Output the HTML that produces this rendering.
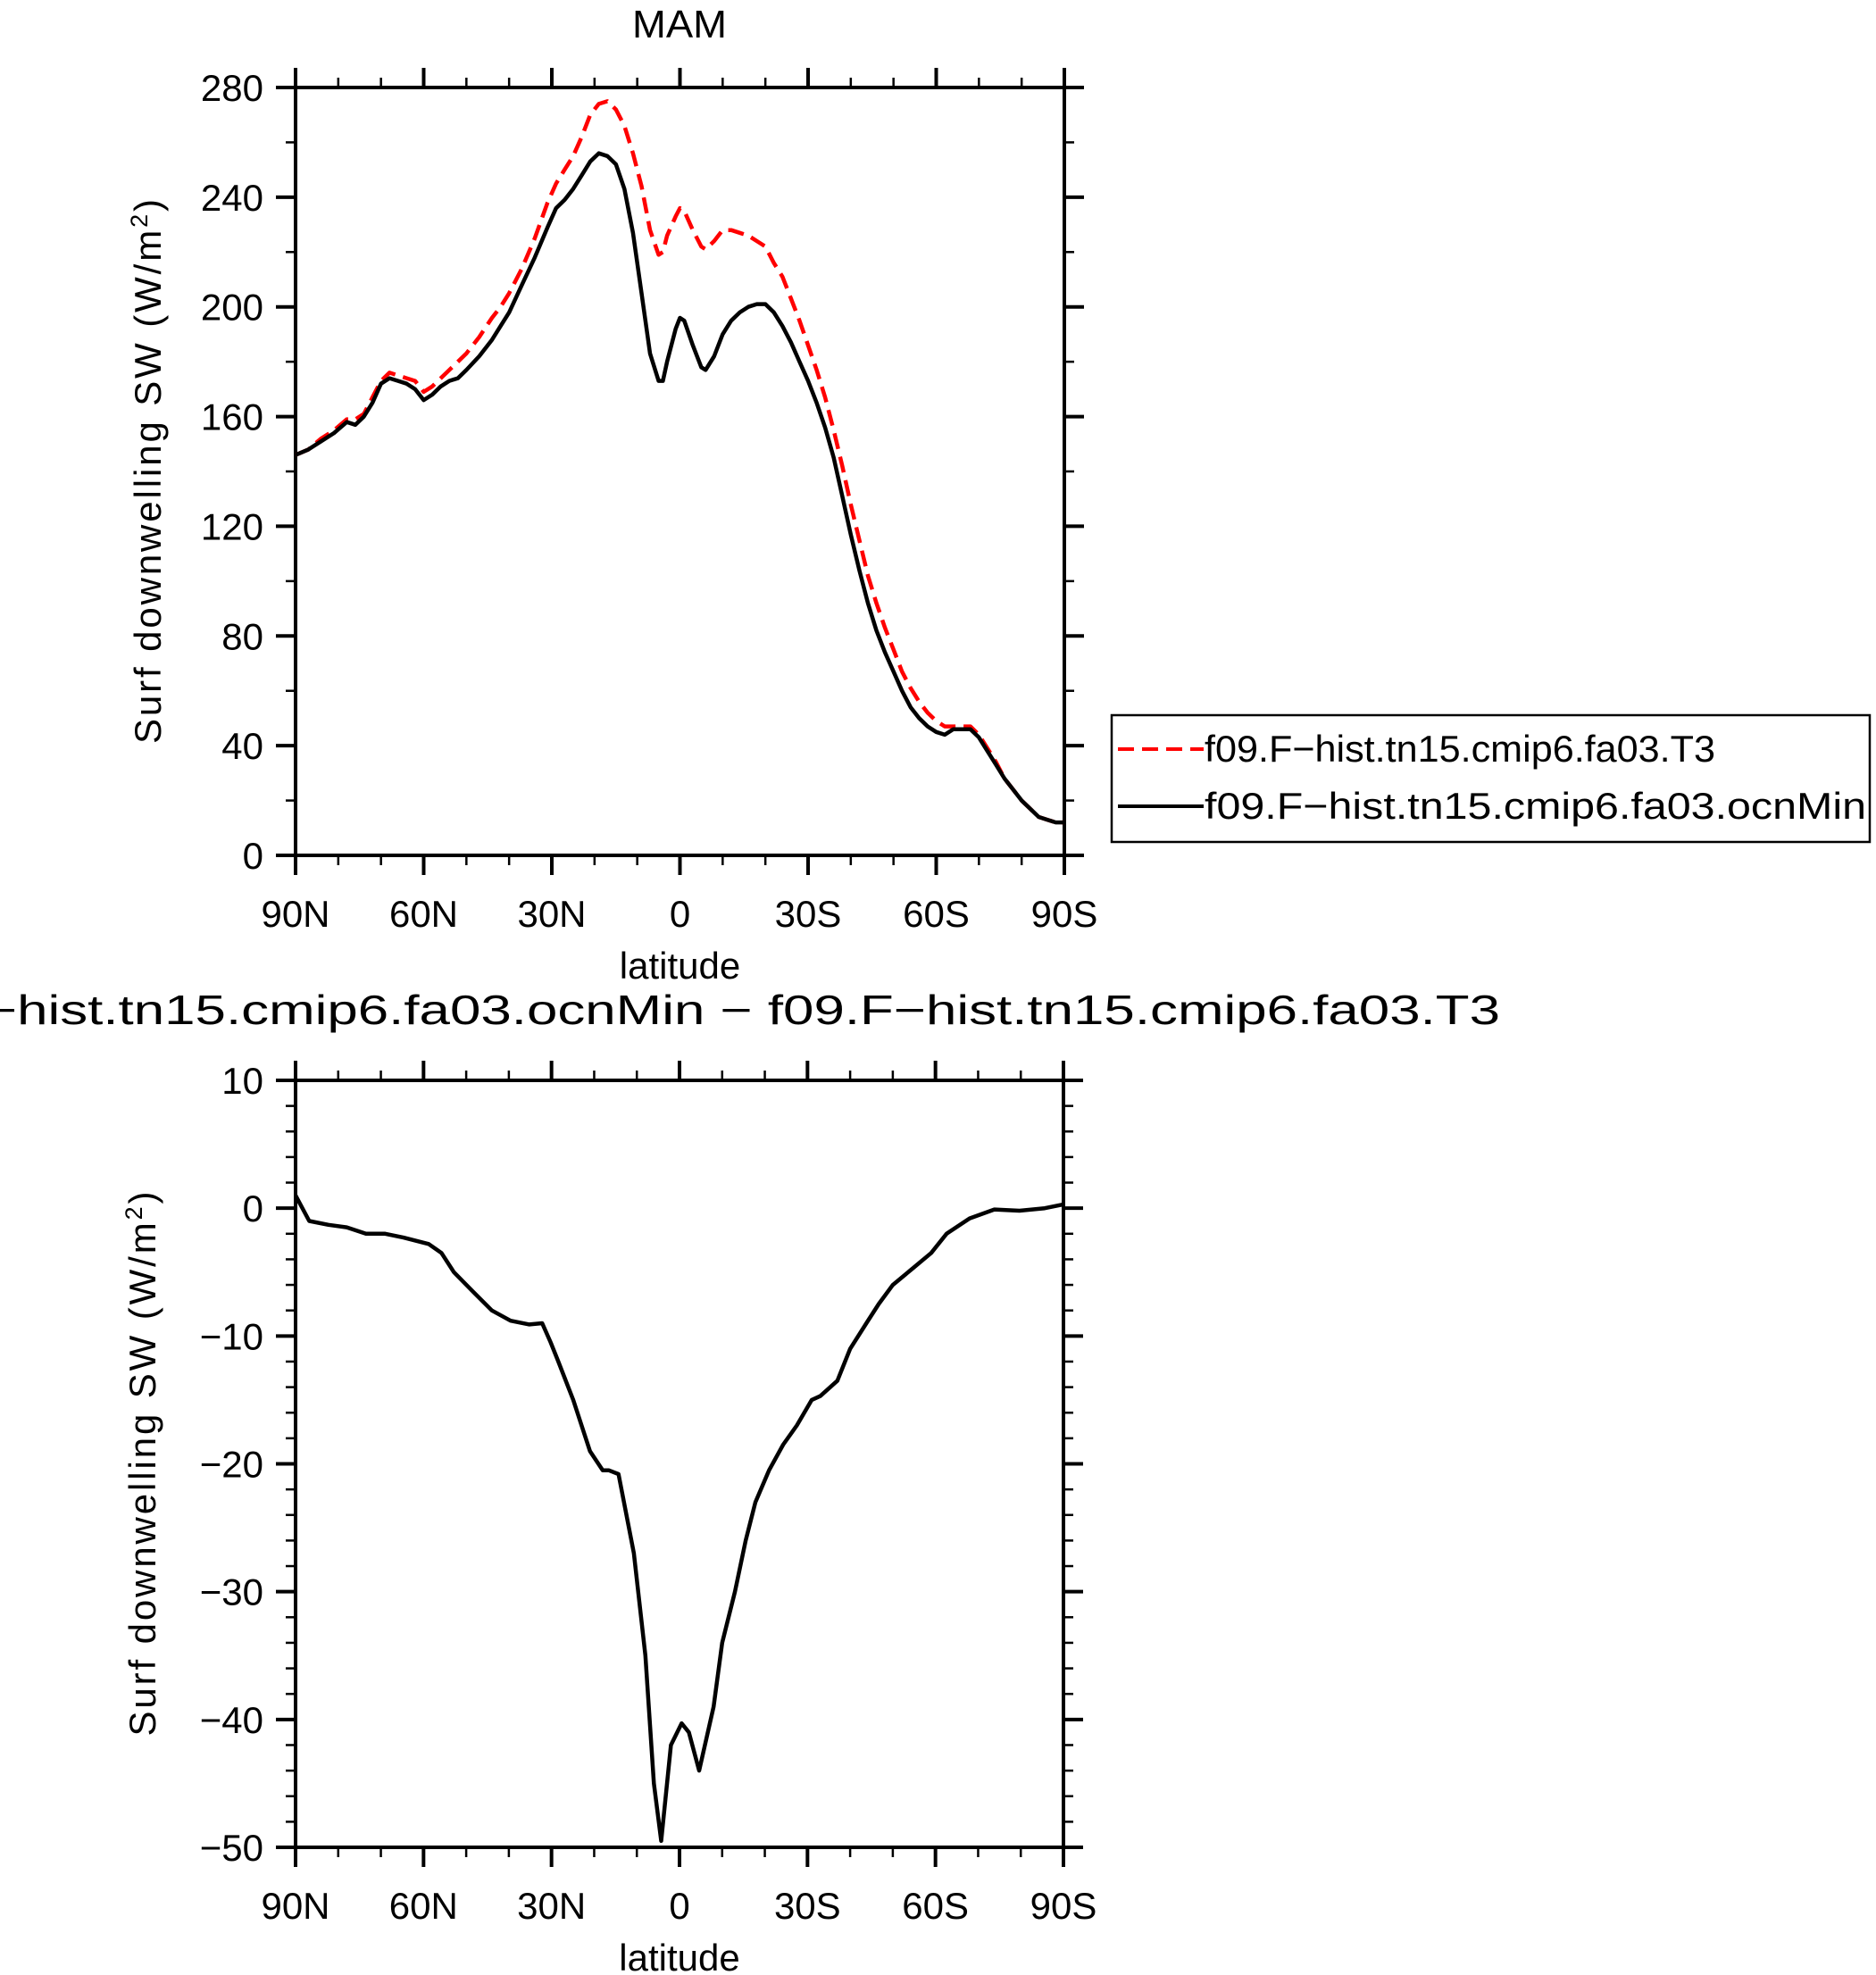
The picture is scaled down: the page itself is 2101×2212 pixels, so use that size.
<!DOCTYPE html>
<html><head><meta charset="utf-8"><style>
html,body{margin:0;padding:0;background:#fff;}
svg{display:block;font-family:"Liberation Sans",sans-serif;}
</style></head><body>
<svg id="chart" width="2101" height="2212" viewBox="0 0 2101 2212" xmlns="http://www.w3.org/2000/svg">
<rect width="2101" height="2212" fill="#fff"/>
<text x="761" y="42" font-size="44" text-anchor="middle" textLength="106" lengthAdjust="spacingAndGlyphs">MAM</text>
<text x="761" y="1147" font-size="46" text-anchor="middle" textLength="1838" lengthAdjust="spacingAndGlyphs">f09.F−hist.tn15.cmip6.fa03.ocnMin  −  f09.F−hist.tn15.cmip6.fa03.T3</text>
<g id="top"></g>
<g id="bot"></g>
<g>
<rect x="1245" y="801" width="849" height="142" fill="none" stroke="#000" stroke-width="2.5"/>
<line x1="1252" y1="839" x2="1348" y2="839" stroke="#ff0000" stroke-width="4" stroke-dasharray="18,9"/>
<text x="1349" y="853" font-size="42" textLength="572" lengthAdjust="spacingAndGlyphs">f09.F−hist.tn15.cmip6.fa03.T3</text>
<line x1="1252" y1="903" x2="1348" y2="903" stroke="#000" stroke-width="4"/>
<text x="1349" y="917" font-size="42" textLength="741" lengthAdjust="spacingAndGlyphs">f09.F−hist.tn15.cmip6.fa03.ocnMin</text>
</g>
</svg>
<script>
const lats=[90,87,84,81,78,76,74,72,70,68,66,64,62,60,58,56,54,52,50,47,44,42,40,37,34,31,29,27,25,23,21,19,17,15,13,11,9,7,5,4,3,1,0,-1,-3,-5,-6,-8,-10,-12,-14,-16,-18,-20,-22,-24,-26,-28,-30,-32,-34,-36,-38,-40,-42,-44,-46,-48,-50,-52,-54,-56,-58,-60,-62,-64,-66,-68,-70,-72,-74,-76,-78,-80,-82,-84,-86,-88,-90];
const ocnMin=[146,148,151,154,158,157,160,165,172,174,173,172,170,166,168,171,173,174,177,182,188,193,198,208,218,229,236,239,243,248,253,256,255,252,243,227,205,183,173,173,180,192,196,195,186,178,177,182,190,195,198,200,201,201,198,193,187,180,173,165,156,145,131,117,104,92,82,74,67,60,54,50,47,45,44,46,46,46,43,38,33,28,24,20,17,14,13,12,12];
const t3=[146,148,152,155,159,159,161,167,173,176,175,174,173,169,171,174,177,180,183,189,196,200,205,214,225,238,245,250,255,262,270,274,275,272,266,256,244,228,219,220,226,233,236,235,228,222,221,224,228,228,227,226,224,222,216,211,203,195,186,177,167,155,142,128,115,102,92,83,75,67,61,56,52,49,47,47,47,47,44,39,34,28,24,20,17,14,13,12,12];
const dLats=[90,86.8,82.3,78,73.5,69,64.7,58.8,55.8,52.9,48.5,44,39.6,35.2,32.2,30.2,28.4,24.9,21,18,16.6,14.3,10.7,8,6,4.3,2,-0.5,-2.2,-4.6,-8,-10,-13,-15.5,-17.8,-21,-24.3,-27.5,-31,-33,-37,-40,-43.8,-46.7,-50,-54.7,-59,-62.6,-68,-73.8,-79.7,-85.6,-90];
const diff=[1,-1,-1.3,-1.5,-2,-2,-2.3,-2.8,-3.5,-5,-6.5,-8,-8.8,-9.1,-9,-10.5,-12,-15,-19,-20.5,-20.5,-20.8,-27,-35,-45,-49.5,-42,-40.3,-41,-44,-39,-34,-30,-26,-23,-20.5,-18.5,-17,-15,-14.7,-13.5,-11,-9,-7.5,-6,-4.7,-3.5,-2,-0.8,-0.1,-0.2,0,0.3];
const xTicks=[90,60,30,0,-30,-60,-90];
const xTickLabels=["90N","60N","30N","0","30S","60S","90S"];
const topYTicks=[0,40,80,120,160,200,240,280];
const botYTicks=[-50,-40,-30,-20,-10,0,10];
const NS="http://www.w3.org/2000/svg";
function mk(parent,tag,attrs){const e=document.createElementNS(NS,tag);for(const k in attrs)e.setAttribute(k,attrs[k]);parent.appendChild(e);return e;}
function drawPanel(g,L,R,T,B,ymin,ymax,yTicks,minorStep,yTitleX){
  const sx=lat=>L+(90-lat)/180*(R-L);
  const sy=v=>B-(v-ymin)/(ymax-ymin)*(B-T);
  const fr=mk(g,'rect',{x:L,y:T,width:R-L,height:B-T,fill:'none',stroke:'#000','stroke-width':4});
  
  
  for(let lat=90;lat>=-90;lat-=10){
    const major=lat%30===0;const len=major?22:11;const x=sx(lat);
    const a=mk(g,'line',{x1:x,y1:B,x2:x,y2:B+len,stroke:'#000','stroke-width':major?4:2.5});
    
    
    const b=mk(g,'line',{x1:x,y1:T,x2:x,y2:T-len,stroke:'#000','stroke-width':major?4:2.5});
    
    
  }
  for(let v=ymin;v<=ymax+1e-9;v+=minorStep){
    const major=yTicks.some(t=>Math.abs(t-v)<1e-6);const len=major?22:11;const y=sy(v);
    const a=mk(g,'line',{x1:L,y1:y,x2:L-len,y2:y,stroke:'#000','stroke-width':major?4:2.5});
    
    
    const b=mk(g,'line',{x1:R,y1:y,x2:R+len,y2:y,stroke:'#000','stroke-width':major?4:2.5});
    
    
  }
  xTicks.forEach((lat,i)=>{
    const t=mk(g,'text',{x:sx(lat),y:B+80,'font-size':42,'text-anchor':'middle'});
    t.textContent=xTickLabels[i];
    
    
  });
  yTicks.forEach(v=>{
    const t=mk(g,'text',{x:L-36,y:sy(v)+15,'font-size':42,'text-anchor':'end'});
    t.textContent=(v<0?'−'+Math.abs(v):String(v));
    
    
  });
  const xt=mk(g,'text',{x:(L+R)/2,y:B+138,'font-size':42,'text-anchor':'middle'});
  xt.textContent='latitude';
  
  
  const cy=(T+B)/2;
  const yt=mk(g,'text',{x:yTitleX,y:cy,'font-size':42,'text-anchor':'middle','textLength':610,'lengthAdjust':'spacing',transform:`rotate(-90 ${yTitleX} ${cy})`});
  yt.innerHTML='Surf  downwelling  SW  (W/m<tspan baseline-shift="super" font-size="27">2</tspan>)';
  
  
  return {sx,sy};
}
function line(g,xs,ys,sx,sy,attrs,name){
  const d=xs.map((x,i)=>(i?'L':'M')+sx(x).toFixed(1)+','+sy(ys[i]).toFixed(1)).join('');
  const p=mk(g,'path',Object.assign({d,fill:'none','stroke-width':4.5,'stroke-linejoin':'round'},attrs));
  
  
}
const gt=document.getElementById('top');
const a=drawPanel(gt,331,1192,98,958,0,280,topYTicks,20,180);
line(gt,lats,t3,a.sx,a.sy,{stroke:'#ff0000','stroke-dasharray':'18,9'},'series-t3');
line(gt,lats,ocnMin,a.sx,a.sy,{stroke:'#000'},'series-ocnmin');
const gb=document.getElementById('bot');
const b=drawPanel(gb,331,1191,1210,2069,-50,10,botYTicks,2,174);
line(gb,dLats,diff,b.sx,b.sy,{stroke:'#000'},'series-difference');
</script>
</body></html>
